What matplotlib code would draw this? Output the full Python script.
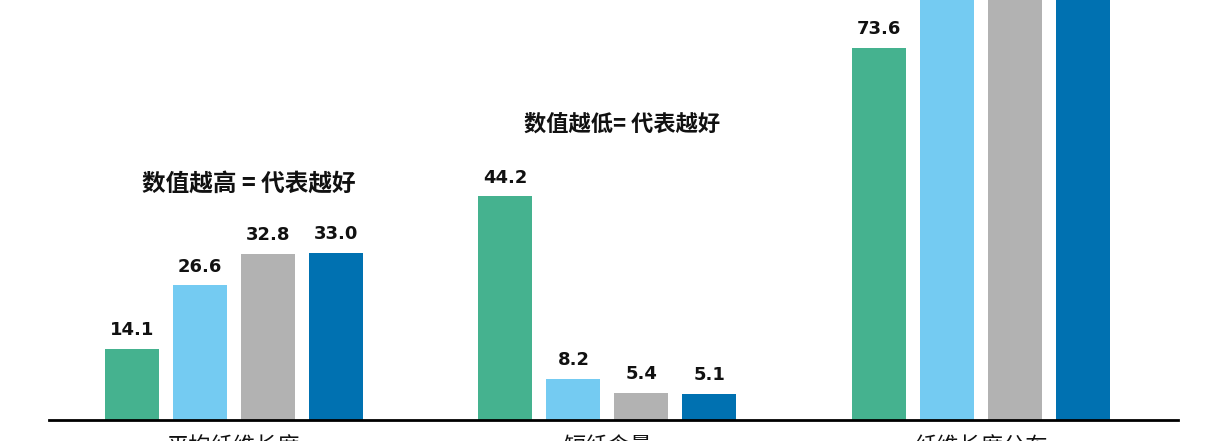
import matplotlib.pyplot as plt
import numpy as np

plt.rcParams['font.family'] = ['Noto Sans CJK SC', 'DejaVu Sans']

categories = ["平均纤维长度", "短纤含量", "纤维长度分布"]
series_1 = [14.1, 44.2, 73.6]
series_2 = [26.6, 8.2, 88.9]   # third group runs off the top of the picture
series_3 = [32.8, 5.4, 91.4]
series_4 = [33.0, 5.1, 92.3]
colors = ["#45B28F", "#74CBF2", "#B2B2B2", "#0071B1"]
notes = ["数值越高 = 代表越好", "数值越低= 代表越好"]

fig = plt.figure(figsize=(12.09, 4.41), dpi=100)
ax = fig.add_axes([49 / 1209, 21 / 441, 1129 / 1209, 420 / 441])

ymax = 83.0
x = np.arange(len(categories))
step = 68 / 373.5
width = 54 / 373.5
for i, (vals, c) in enumerate(zip([series_1, series_2, series_3, series_4], colors)):
    bars = ax.bar(x + (i - 1.5) * step, vals, width=width, color=c)
    for b, v in zip(bars, vals):
        if v > ymax - 5:  # label would sit above the visible area, as in the reference
            continue
        ax.annotate(f"{v:.1f}", (b.get_x() + b.get_width() / 2, v),
                    xytext=(0, 7), textcoords="offset points",
                    ha="center", va="bottom", fontsize=13, fontweight="bold",
                    family="DejaVu Sans", color="#111111", annotation_clip=False)

# notes above the first two groups
ax.text(0.04, 46.8, notes[0], ha="center", va="center", fontsize=17, fontweight="bold", color="#111111")
ax.text(1.04, 58.5, notes[1], ha="center", va="center", fontsize=16, fontweight="bold", color="#111111")

ax.set_xlim(-0.4953, 2.5275)
ax.set_ylim(0, ymax)
ax.set_xticks(x)
ax.set_xticklabels(categories, fontsize=16, color="#111111")
ax.tick_params(axis="x", length=0, pad=11)
ax.set_yticks([])
for s in ["top", "right", "left"]:
    ax.spines[s].set_visible(False)
ax.spines["bottom"].set_linewidth(2)
ax.spines["bottom"].set_color("black")

fig.savefig("out.png", dpi=100)
